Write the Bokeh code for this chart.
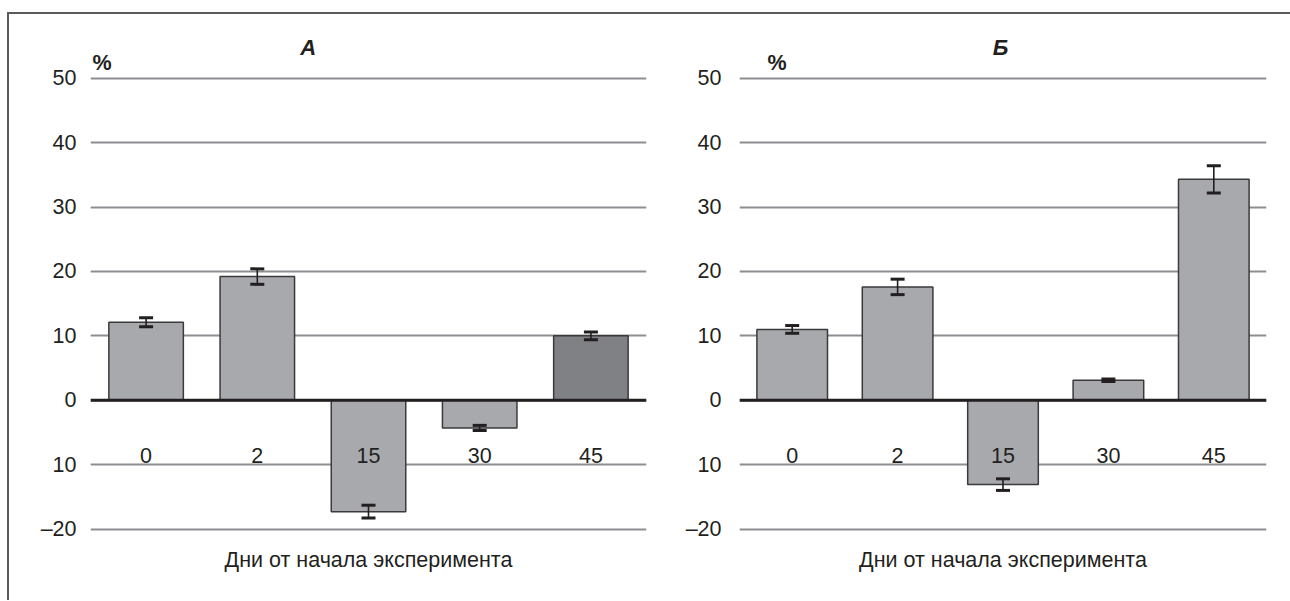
from bokeh.plotting import figure
from bokeh.models import (FactorRange, Range1d, FixedTicker, Span, Whisker, TeeHead,
                          ColumnDataSource, Title)
from bokeh.core.properties import value
from bokeh.layouts import row
from bokeh.embed import file_html
from bokeh.resources import INLINE

# Days from the start of the experiment
days = ["0", "2", "15", "30", "45"]

# Panel А: change, % and its error
change_a = [12.1, 19.2, -17.3, -4.3, 10.0]
err_a = [0.7, 1.2, 1.0, 0.4, 0.6]
fill_a = ["#a7a9ac", "#a7a9ac", "#a7a9ac", "#a7a9ac", "#808184"]

# Panel Б: change, % and its error
change_b = [11.0, 17.6, -13.1, 3.1, 34.3]
err_b = [0.6, 1.2, 0.9, 0.2, 2.1]
fill_b = ["#a7a9ac", "#a7a9ac", "#a7a9ac", "#a7a9ac", "#a7a9ac"]

y_ticks = [-20, -10, 0, 10, 20, 30, 40, 50]
y_tick_labels = ["–20", "10", "0", "10", "20", "30", "40", "50"]
x_title = "Дни от начала эксперимента"

FONT = "Liberation Sans"
SIZE = "21.5px"
INK = "#231f20"
GRID = "#8d8e91"


def panel(letter, values, errors, fills, width, left, right,
          pct_anchor, pct_dx, letter_anchor, letter_dx, tick_standoff):
    p = figure(width=width, height=586, x_range=FactorRange(*days),
               y_range=Range1d(-22.4, 59.9),
               output_backend="svg", toolbar_location=None,
               min_border_left=left, min_border_right=right,
               min_border_top=0, min_border_bottom=56)
    p.outline_line_color = None
    p.background_fill_color = "white"
    p.border_fill_color = "white"

    src = ColumnDataSource(dict(day=days, val=values, fill=fills,
                                lo=[v - e for v, e in zip(values, errors)],
                                hi=[v + e for v, e in zip(values, errors)]))

    p.vbar(x="day", top="val", bottom=0, width=0.67, source=src,
           fill_color="fill", line_color="#3a3a3c", line_width=1.5)

    head = dict(size=14, line_width=3, line_color=INK)
    wh = Whisker(source=src, base="day", lower="lo", upper="hi",
                 line_color=INK, line_width=1.6,
                 upper_head=TeeHead(**head), lower_head=TeeHead(**head))
    wh.level = "annotation"
    p.add_layout(wh)

    p.add_layout(Span(location=0, dimension="width", line_color=INK,
                      line_width=3))

    # y axis: numbers only, no line or ticks
    p.yaxis.ticker = FixedTicker(ticks=y_ticks)
    p.yaxis.major_label_overrides = dict(zip(y_ticks, y_tick_labels))
    p.yaxis.axis_line_color = None
    p.yaxis.major_tick_line_color = None
    p.yaxis.minor_tick_line_color = None
    p.yaxis.major_label_standoff = tick_standoff
    p.yaxis.major_label_text_font = FONT
    p.yaxis.major_label_text_font_size = SIZE
    p.yaxis.major_label_text_color = INK

    p.ygrid.ticker = FixedTicker(ticks=y_ticks)
    p.ygrid.grid_line_color = GRID
    p.ygrid.grid_line_width = 2
    p.xgrid.grid_line_color = None

    # day labels sit on the zero line, pushed down below it
    p.xaxis.fixed_location = 0
    p.xaxis.axis_line_color = None
    p.xaxis.major_tick_line_color = None
    p.xaxis.minor_tick_line_color = None
    p.xaxis.major_label_standoff = 42
    p.xaxis.major_label_text_font = FONT
    p.xaxis.major_label_text_font_size = SIZE
    p.xaxis.major_label_text_color = INK

    p.add_layout(Title(text=x_title, align="center", text_font=FONT,
                       text_font_size=SIZE, text_font_style="normal",
                       text_color=INK, standoff=3), "below")

    # unit sign and panel letter above the plot area
    p.text(x=[pct_anchor], y=[52.4], text=["%"], x_offset=pct_dx,
           text_font=value(FONT), text_font_size=SIZE,
           text_font_style="bold", text_color=INK,
           text_align="left", text_baseline="middle")
    p.text(x=[letter_anchor], y=[54.8], text=[letter], x_offset=letter_dx,
           text_font=value(FONT), text_font_size="22px",
           text_font_style="bold italic", text_color=INK,
           text_align="center", text_baseline="middle")
    return p


pa = panel("А", change_a, err_a, fill_a, width=651, left=81, right=14,
           pct_anchor="0", pct_dx=-53.6, letter_anchor="2", letter_dx=51,
           tick_standoff=8)
pb = panel("Б", change_b, err_b, fill_b, width=630, left=79, right=24,
           pct_anchor="0", pct_dx=-24.7, letter_anchor="15", letter_dx=-2.5,
           tick_standoff=12)

layout = row(pa, pb, margin=(12, 0, 0, 7),
             styles={"border-top": "2px solid #5b5b5d",
                     "border-left": "2px solid #5b5b5d"})

open("out.html", "w").write(file_html(layout, INLINE))
